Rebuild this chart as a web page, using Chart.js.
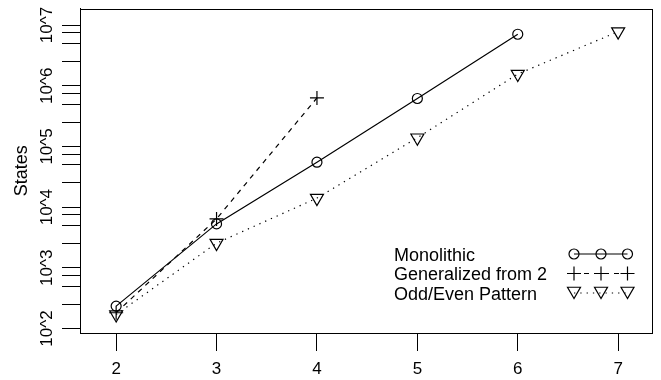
<!DOCTYPE html>
<html>
<head>
<meta charset="utf-8">
<script src="https://cdn.jsdelivr.net/npm/chart.js@4.4.1/dist/chart.umd.min.js"></script>
<style>
  html, body { margin: 0; padding: 0; background: #fff; }
  #wrap { width: 661px; height: 380px; }
</style>
</head>
<body>
<div id="wrap"><canvas id="chart" width="661" height="380"></canvas></div>
<script>
// values
const nValues = [2, 3, 4, 5, 6, 7];
const monolithic = [234, 5300, 55000, 617000, 7060000];
const generalized = [182, 6400, 630000];
const oddEven = [170, 2550, 14100, 139000, 1560000, 7800000];
const seriesNames = ['Monolithic', 'Generalized from 2', 'Odd/Even Pattern'];
const xTicks = [2, 3, 4, 5, 6, 7];
const yDecades = [2, 3, 4, 5, 6, 7];
const yMinorSteps = [1, 2.5, 5, 7.5];

const FONT = '"Liberation Sans", Arial, Helvetica, sans-serif';

function toPoints(values) {
    return values.map((v, i) => ({ x: nValues[i], y: v }));
}

const dashStyles = [[], [5, 5], [1.3, 5]];
const pointStyles = ['circle', 'cross', 'triangle'];
const pointRadii = [5, 7, 7.5];
const pointRotations = [0, 0, 180];

const datasets = [monolithic, generalized, oddEven].map((vals, i) => ({
    label: seriesNames[i],
    data: toPoints(vals),
    borderColor: '#000',
    borderWidth: 1.2,
    borderDash: dashStyles[i],
    pointStyle: pointStyles[i],
    pointRadius: pointRadii[i],
    pointRotation: pointRotations[i],
    pointBorderColor: '#000',
    pointBorderWidth: 1.2,
    pointBackgroundColor: 'rgba(0,0,0,0)',
    fill: false,
    tension: 0
}));

// frame, tick labels, axis title and legend, R style
const decorations = {
    id: 'decorations',
    afterDraw(chart) {
        const ctx = chart.ctx;
        const area = chart.chartArea;
        const xs = chart.scales.x;
        const ys = chart.scales.y;
        ctx.save();
        ctx.strokeStyle = '#000';
        ctx.lineWidth = 1;
        ctx.strokeRect(Math.round(area.left) + 0.5, Math.round(area.top) + 0.5,
            Math.round(area.right - area.left), Math.round(area.bottom - area.top));

        ctx.fillStyle = '#000';
        ctx.font = '17px ' + FONT;
        ctx.textAlign = 'center';
        ctx.textBaseline = 'middle';
        xTicks.forEach(t => {
            ctx.fillText(String(t), xs.getPixelForValue(t), 369.5);
        });

        yDecades.forEach(d => {
            const py = ys.getPixelForValue(Math.pow(10, d));
            ctx.save();
            ctx.translate(47.5, py);
            ctx.rotate(-Math.PI / 2);
            ctx.fillText('10^' + d, 0, 0);
            ctx.restore();
        });

        ctx.save();
        ctx.font = '18px ' + FONT;
        ctx.translate(22, (area.top + area.bottom) / 2);
        ctx.rotate(-Math.PI / 2);
        ctx.fillText('States', 0, 0);
        ctx.restore();

        // legend
        const rowY = [254, 273.5, 293];
        const symX = [574, 601, 627.5];
        ctx.font = '18px ' + FONT;
        ctx.textAlign = 'left';
        ctx.textBaseline = 'alphabetic';
        datasets.forEach((ds, i) => {
            ctx.fillStyle = '#000';
            ctx.fillText(ds.label, 394, rowY[i] + 6.5);
            ctx.beginPath();
            ctx.setLineDash(ds.borderDash);
            ctx.lineWidth = 1.2;
            ctx.moveTo(symX[0], rowY[i]);
            ctx.lineTo(symX[2], rowY[i]);
            ctx.stroke();
            ctx.setLineDash([]);
            ctx.fillStyle = 'rgba(0,0,0,0)';
            symX.forEach(sx => {
                Chart.helpers.drawPoint(ctx, {
                    pointStyle: ds.pointStyle,
                    radius: ds.pointRadius,
                    rotation: ds.pointRotation,
                    borderWidth: 1.2
                }, sx, i === 2 ? rowY[i] - 2 : rowY[i]);
            });
        });
        ctx.restore();
    }
};

new Chart(document.getElementById('chart'), {
    type: 'line',
    data: { datasets: datasets },
    options: {
        responsive: false,
        animation: false,
        layout: { padding: { left: 62, right: 6, top: 7, bottom: 29 } },
        plugins: {
            legend: { display: false },
            tooltip: { enabled: false }
        },
        scales: {
            x: {
                type: 'linear',
                min: 1.64,
                max: 7.34,
                afterBuildTicks: scale => {
                    scale.ticks = xTicks.map(v => ({ value: v }));
                },
                ticks: { display: false },
                grid: {
                    drawOnChartArea: false,
                    drawTicks: true,
                    tickLength: 18,
                    tickColor: '#000',
                    lineWidth: 1
                },
                border: { display: true, color: '#000', width: 1 }
            },
            y: {
                type: 'logarithmic',
                min: 84.4,
                max: 1.86e7,
                afterBuildTicks: scale => {
                    const ticks = [];
                    yDecades.forEach(d => {
                        yMinorSteps.forEach(m => {
                            const v = m * Math.pow(10, d);
                            if (v >= scale.min && v <= scale.max) ticks.push({ value: v });
                        });
                    });
                    scale.ticks = ticks;
                },
                ticks: { display: false },
                grid: {
                    drawOnChartArea: false,
                    drawTicks: true,
                    tickLength: 18,
                    tickColor: '#000',
                    lineWidth: 1
                },
                border: { display: true, color: '#000', width: 1 }
            }
        }
    },
    plugins: [decorations]
});
</script>
</body>
</html>
